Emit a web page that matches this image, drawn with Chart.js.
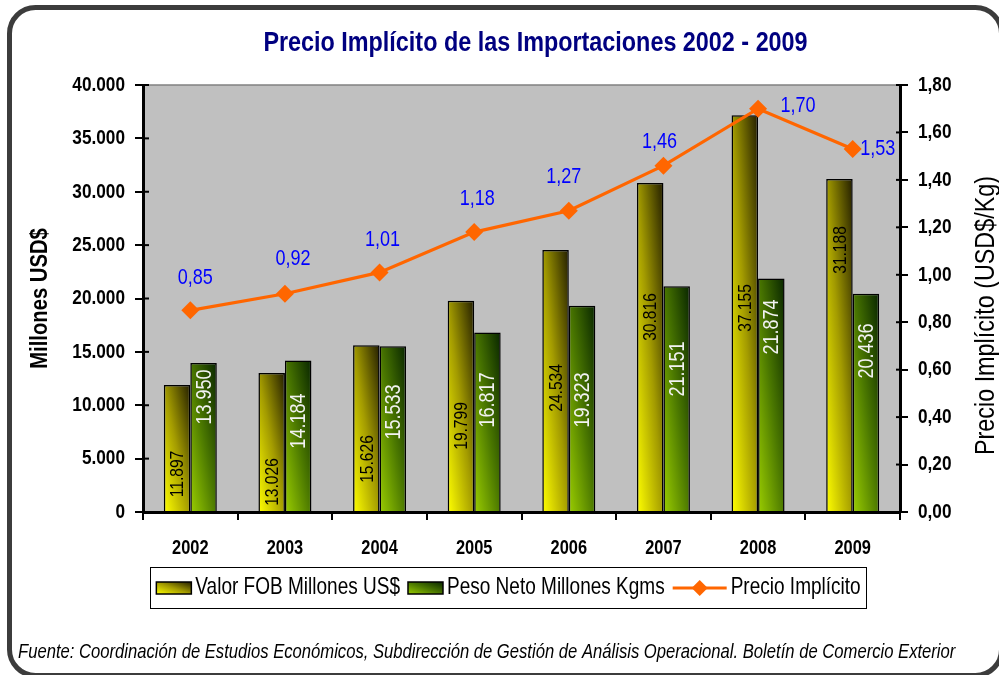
<!DOCTYPE html>
<html>
<head>
<meta charset="utf-8">
<script src="https://cdn.jsdelivr.net/npm/chart.js@4.4.1/dist/chart.umd.min.js"></script>
<style>
  html, body { margin: 0; padding: 0; background: #fff; }
  #grafico { display: block; }
</style>
</head>
<body>
<canvas id="grafico" width="999" height="675"></canvas>
<script>
// Datos
const anios = ['2002', '2003', '2004', '2005', '2006', '2007', '2008', '2009'];
const valorFOB = [11897, 13026, 15626, 19799, 24534, 30816, 37155, 31188];
const pesoNeto = [13950, 14184, 15533, 16817, 19323, 21151, 21874, 20436];
const precioImplicito = [0.85, 0.92, 1.01, 1.18, 1.27, 1.46, 1.70, 1.53];

// donde va centrada cada etiqueta de barra (en unidades del eje izquierdo)
const posEtiquetaFOB = [3560, 2810, 4965, 8060, 11620, 18270, 19110, 24540];
const posEtiquetaPeso = [10770, 8520, 9370, 10490, 10490, 13400, 17330, 15080];
// desplazamiento de las etiquetas del precio respecto del punto [dx, dy]
const posEtiquetaPrecio = [[5, -32], [8, -35], [3, -32], [3, -33], [-5, -34], [-4, -24], [40, -3], [25, 0]];

// Liberation Sans comprimida horizontalmente hace de Arial Narrow
const FUENTE = "'Liberation Sans', Arial, sans-serif";
const ANGOSTO = 0.82;

const coloresFOB = ['#FFFF00', '#A39B00', '#231E00'];
const coloresPeso = ['#9ACD00', '#4B7800', '#082600'];

Chart.defaults.font.family = FUENTE;
Chart.defaults.color = '#000';

const miles = v => String(Math.round(v)).replace(/\B(?=(\d{3})+(?!\d))/g, '.');
const coma = v => Number(v).toFixed(2).replace('.', ',');

function fuente(o) {
  return (o.estilo || '') + ' ' + (o.peso || '') + ' ' + o.tam + 'px ' + FUENTE;
}

function texto(ctx, str, x, y, o) {
  ctx.save();
  ctx.translate(x, y);
  if (o.rot) ctx.rotate(o.rot);
  ctx.scale(ANGOSTO, 1);
  ctx.font = fuente(o);
  ctx.textAlign = o.alinear || 'center';
  ctx.textBaseline = o.base || 'middle';
  ctx.fillStyle = o.color || '#000';
  ctx.fillText(str, 0, 0);
  ctx.restore();
}

function ancho(ctx, str, o) {
  ctx.save();
  ctx.font = fuente(o);
  const w = ctx.measureText(str).width * ANGOSTO;
  ctx.restore();
  return w;
}

// degradado diagonal: abajo-izquierda claro, arriba-derecha oscuro
function degradado(ctx, izq, abajo, w, h, colores) {
  const gx = 1 / (2 * w), gy = -1 / (2 * h);
  const n = gx * gx + gy * gy;
  const g = ctx.createLinearGradient(izq, abajo, izq + gx / n, abajo + gy / n);
  g.addColorStop(0, colores[0]);
  g.addColorStop(0.5, colores[1]);
  g.addColorStop(1, colores[2]);
  return g;
}

const decorado = {
  id: 'decorado',
  beforeDraw(chart) {
    const { ctx, chartArea: a } = chart;
    ctx.save();
    ctx.fillStyle = '#fff';
    ctx.fillRect(0, 0, chart.width, chart.height);
    ctx.fillStyle = '#C0C0C0';
    ctx.fillRect(a.left, a.top, a.width, a.height);
    ctx.strokeStyle = '#808080';
    ctx.lineWidth = 1.5;
    ctx.beginPath();
    ctx.moveTo(a.left, a.top);
    ctx.lineTo(a.right, a.top);
    ctx.stroke();
    ctx.restore();
  },
  beforeDatasetsDraw(chart) {
    [coloresFOB, coloresPeso].forEach((colores, i) => {
      chart.getDatasetMeta(i).data.forEach(el => {
        const p = el.getProps(['x', 'y', 'base', 'width'], true);
        el.options.backgroundColor = degradado(chart.ctx, p.x - p.width / 2, p.base, p.width, p.base - p.y, colores);
      });
    });
  },
  afterDatasetsDraw(chart) {
    const { ctx } = chart;
    const y = chart.scales.y;
    // etiquetas verticales de las barras
    [[0, valorFOB, posEtiquetaFOB, '#000', 19], [1, pesoNeto, posEtiquetaPeso, '#F2F2F2', 22]].forEach(([i, datos, pos, color, tam]) => {
      chart.getDatasetMeta(i).data.forEach((el, j) => {
        texto(ctx, miles(datos[j]), el.x + 1, y.getPixelForValue(pos[j]), { tam, color, rot: -Math.PI / 2 });
      });
    });
    // etiquetas del precio
    chart.getDatasetMeta(2).data.forEach((el, j) => {
      texto(ctx, coma(precioImplicito[j]), el.x + posEtiquetaPrecio[j][0], el.y + posEtiquetaPrecio[j][1], { tam: 22, color: '#0000FF' });
    });
  },
  afterDraw(chart) {
    const { ctx, chartArea: a } = chart;
    const sx = chart.scales.x, sy = chart.scales.y, sy1 = chart.scales.y1;
    ctx.save();
    // titulo
    texto(ctx, chart.options.plugins.title.text, (a.left + a.right) / 2 + 14, 43, { tam: 28.5, peso: 'bold', color: '#000080' });
    // marcas que cruzan los ejes verticales
    ctx.strokeStyle = '#000';
    ctx.lineWidth = 2;
    [[sy, a.left, 6], [sy1, a.right, -4]].forEach(([s, xe, largo]) => {
      s.ticks.forEach(t => {
        const py = s.getPixelForValue(t.value);
        ctx.beginPath();
        ctx.moveTo(xe, py);
        ctx.lineTo(xe + largo, py);
        ctx.stroke();
      });
    });
    // etiquetas de los ejes
    sy.ticks.forEach(t => texto(ctx, miles(t.value), a.left - 18, sy.getPixelForValue(t.value), { tam: 21, peso: 'bold', alinear: 'right' }));
    sy1.ticks.forEach(t => texto(ctx, coma(t.value), a.right + 18, sy1.getPixelForValue(t.value), { tam: 21, peso: 'bold', alinear: 'left' }));
    anios.forEach((anio, i) => texto(ctx, anio, sx.getPixelForTick(i), a.bottom + 36, { tam: 20, peso: 'bold' }));
    texto(ctx, 'Millones USD$', 40, (a.top + a.bottom) / 2, { tam: 24.7, peso: 'bold', rot: -Math.PI / 2 });
    texto(ctx, 'Precio Implícito (USD$/Kg)', 986, (a.top + a.bottom) / 2 + 17, { tam: 28.5, rot: -Math.PI / 2 });
    // leyenda
    const yl = 588;
    const fl = { tam: 23.2, alinear: 'left' };
    const items = [
      { tipo: 'barra', colores: coloresFOB, texto: chart.data.datasets[0].label },
      { tipo: 'barra', colores: coloresPeso, texto: chart.data.datasets[1].label },
      { tipo: 'linea', texto: chart.data.datasets[2].label }
    ];
    let total = 0;
    items.forEach(it => {
      it.muestra = it.tipo === 'barra' ? 35 : 54;
      it.ancho = it.muestra + 4 + ancho(ctx, it.texto, fl);
      total += it.ancho;
    });
    total += 8 * (items.length - 1);
    let x = (a.left + a.right) / 2 - 13 - total / 2;
    ctx.strokeStyle = '#000';
    ctx.lineWidth = 1;
    ctx.strokeRect(Math.round(x - 6) + 0.5, 567.5, Math.round(total + 12), 41);
    items.forEach(it => {
      if (it.tipo === 'barra') {
        ctx.fillStyle = degradado(ctx, x, yl + 6, 35, 12, it.colores);
        ctx.fillRect(x, yl - 6, 35, 12);
        ctx.strokeStyle = '#000';
        ctx.lineWidth = 1.5;
        ctx.strokeRect(x, yl - 6, 35, 12);
      } else {
        ctx.strokeStyle = '#FF6600';
        ctx.lineWidth = 3;
        ctx.beginPath();
        ctx.moveTo(x, yl);
        ctx.lineTo(x + 54, yl);
        ctx.stroke();
        ctx.fillStyle = '#FF6600';
        ctx.beginPath();
        ctx.moveTo(x + 27, yl - 8);
        ctx.lineTo(x + 35, yl);
        ctx.lineTo(x + 27, yl + 8);
        ctx.lineTo(x + 19, yl);
        ctx.closePath();
        ctx.fill();
      }
      texto(ctx, it.texto, x + it.muestra + 4, yl, fl);
      x += it.ancho + 8;
    });
    // fuente de los datos
    texto(ctx, 'Fuente: Coordinación de Estudios Económicos, Subdirección de Gestión de Análisis Operacional. Boletín de Comercio Exterior', 18, 652,
      { tam: 20.3, estilo: 'italic', alinear: 'left' });
    // marco redondeado
    ctx.strokeStyle = '#3C3C3C';
    ctx.lineWidth = 5;
    ctx.beginPath();
    ctx.roundRect(9.5, 7.5, 992, 668, 26);
    ctx.stroke();
    ctx.restore();
  }
};

new Chart(document.getElementById('grafico'), {
  type: 'bar',
  data: {
    labels: anios,
    datasets: [
      {
        label: 'Valor FOB Millones US$',
        data: valorFOB,
        yAxisID: 'y',
        order: 1,
        backgroundColor: () => '#CCCC00',
        borderColor: '#000',
        borderWidth: 1.5,
        categoryPercentage: 0.56,
        barPercentage: 1
      },
      {
        label: 'Peso Neto Millones Kgms',
        data: pesoNeto,
        yAxisID: 'y',
        order: 1,
        backgroundColor: () => '#669900',
        borderColor: '#000',
        borderWidth: 1.5,
        categoryPercentage: 0.56,
        barPercentage: 1
      },
      {
        type: 'line',
        label: 'Precio Implícito',
        data: precioImplicito,
        yAxisID: 'y1',
        order: 0,
        borderColor: '#FF6600',
        backgroundColor: '#FF6600',
        borderWidth: 3.2,
        pointStyle: 'rectRot',
        pointRadius: 9,
        pointHoverRadius: 9,
        pointBorderWidth: 0,
        tension: 0
      }
    ]
  },
  options: {
    responsive: false,
    devicePixelRatio: 1,
    animation: false,
    layout: { padding: { top: 85, left: 10, right: 4, bottom: 113 } },
    scales: {
      x: {
        offset: true,
        grid: { offset: true, drawOnChartArea: false, tickLength: 8, color: '#000', lineWidth: 2 },
        border: { display: true, color: '#000', width: 3 },
        ticks: { display: false },
        afterFit: s => { s.height = 50; }
      },
      y: {
        position: 'left',
        min: 0,
        max: 40000,
        ticks: { stepSize: 5000, display: false },
        grid: { drawOnChartArea: false, tickLength: 8, color: '#000', lineWidth: 2 },
        border: { color: '#000', width: 3 },
        afterFit: s => { s.width = 133; }
      },
      y1: {
        position: 'right',
        min: 0,
        max: 1.8,
        ticks: { stepSize: 0.2, display: false },
        grid: { drawOnChartArea: false, tickLength: 8, color: '#000', lineWidth: 2 },
        border: { color: '#000', width: 3 },
        afterFit: s => { s.width = 95; }
      }
    },
    plugins: {
      legend: { display: false },
      tooltip: { enabled: false },
      title: { display: false, text: 'Precio Implícito de las Importaciones 2002 - 2009' }
    }
  },
  plugins: [decorado]
});
</script>
</body>
</html>
